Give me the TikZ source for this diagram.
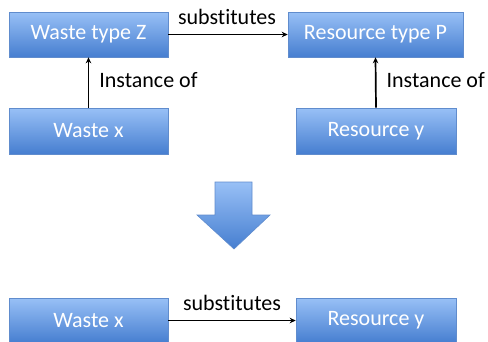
\documentclass[tikz,border=0pt]{standalone}
\usepackage{fontspec}
\setmainfont{Carlito}[RawFeature={-liga;-clig;-calt;-dlig}]
\usetikzlibrary{arrows.meta}
\definecolor{boxtop}{RGB}{152,192,246}
\definecolor{boxbot}{RGB}{70,126,208}
\definecolor{boxline}{RGB}{96,140,205}
\tikzset{
  box/.style={rectangle, draw=boxline, line width=0.6pt, top color=boxtop, bottom color=boxbot,
    text=white, inner sep=0pt, minimum height=45pt, font=\fontsize{22}{26}\selectfont},
  lbl/.style={font=\fontsize{22}{26}\selectfont, text=black, inner sep=0pt},
  conn/.style={-{Stealth[length=6pt,width=5.5pt]}, line width=1.7pt, black}
}
\begin{document}
\begin{tikzpicture}[x=1pt,y=-1pt]
\useasboundingbox (0,0) rectangle (488,341);
\clip (0,0) rectangle (488,341);
\node[box, minimum width=159pt] (wz) at (88.5,34.5) {Waste type Z};
\node[box, minimum width=175pt] (rp) at (375.5,34.5) {Resource type P};
\node[box, minimum width=159pt, minimum height=46pt] (wx) at (88.5,131) {Waste x};
\node[box, minimum width=160pt, minimum height=46pt] (ry) at (376,131) {Resource y};
\node[box, minimum width=159pt] (bwx) at (88.5,320.5) {Waste x};
\node[box, minimum width=160pt] (bry) at (376,320.5) {Resource y};

\draw[conn] (wz.east) -- node[lbl, above=9pt, xshift=-1pt] {subst\kern0pt itutes} (rp.west);
\draw[conn] (wx.north) -- node[lbl, right=10pt, yshift=2pt] {Instance of} (wz.south);
\draw[conn] (ry.north) -- node[lbl, right=10pt, yshift=2pt] {Instance of} (rp.south);
\draw[conn] (bwx.east) -- node[lbl, above=9pt, xshift=0pt] {subst\kern0pt itutes} (bry.west);

\shade[top color=boxtop, bottom color=boxbot, draw=boxline, line width=0.6pt]
  (215,182) -- (252,182) -- (252,215) -- (270,215) -- (234,249) -- (197,215) -- (215,215) -- cycle;
\end{tikzpicture}
\end{document}
